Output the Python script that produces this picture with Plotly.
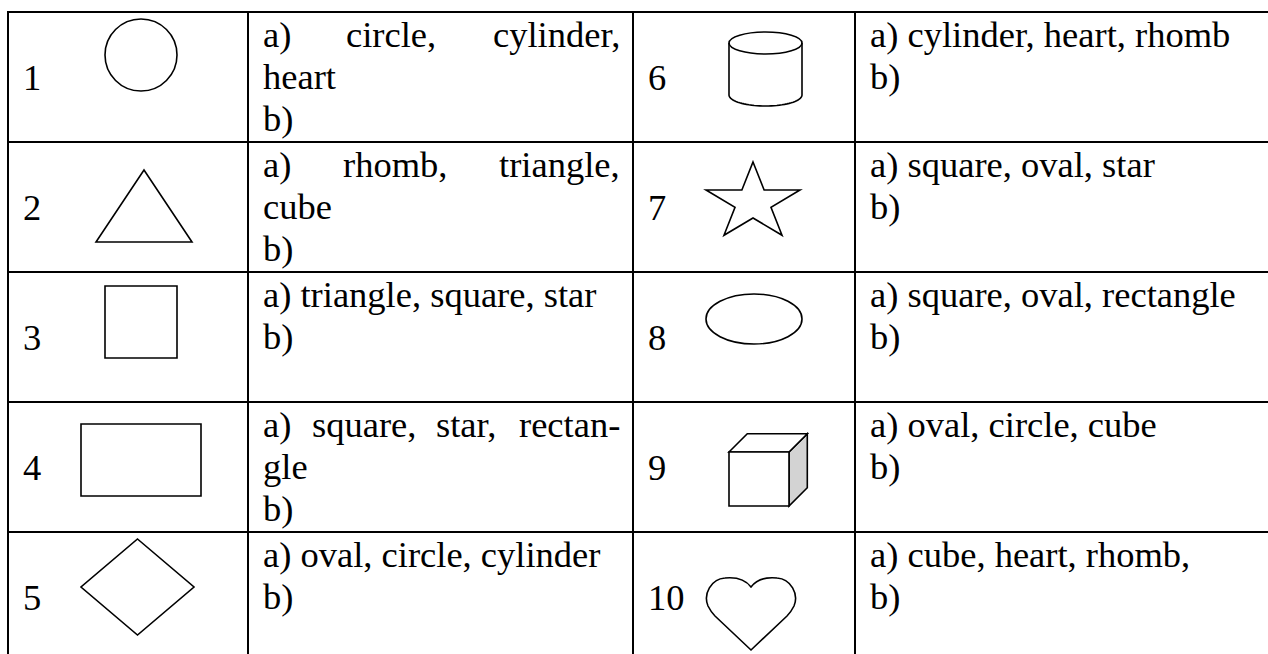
import math
import plotly.graph_objects as go

# ---------------- data ----------------
numbers = ["1", "2", "3", "4", "5", "6", "7", "8", "9", "10"]
figures = ["circle", "triangle", "square", "rectangle", "rhomb",
           "cylinder", "star", "oval", "cube", "heart"]
answer_a = [
    ["a) circle, cylinder,", "heart"],
    ["a) rhomb, triangle,", "cube"],
    ["a) triangle, square, star"],
    ["a) square, star, rectan-", "gle"],
    ["a) oval, circle, cylinder"],
    ["a) cylinder, heart, rhomb"],
    ["a) square, oval, star"],
    ["a) square, oval, rectangle"],
    ["a) oval, circle, cube"],
    ["a) cube, heart, rhomb,"],
]
answer_b = ["b)"] * 10

# ---------------- layout ----------------
W, H = 1268, 654
COL_X = [8, 248, 633, 855, 1300]
ROW_Y = [12, 142, 272, 402, 532, 680]
FONT = "Liberation Serif, Times New Roman, serif"
FS = 36.5
GRID_W = 2
FIG_W = 1.6
PAD_L, PAD_R = 15, 13
BASE1, LINE_GAP = 35, 42

# Times / Liberation Serif advance widths (per em)
CW = {' ': .25, 'a': .444, 'b': .5, 'c': .444, 'd': .5, 'e': .444, 'g': .5,
      'h': .5, 'i': .278, 'l': .278, 'm': .778, 'n': .5, 'o': .5, 'q': .5,
      'r': .333, 's': .389, 't': .278, 'u': .5, 'v': .5, 'y': .5, ',': .25,
      ')': .333, '-': .333}


def tw(s):
    return sum(CW.get(ch, .5) for ch in s) * FS


shapes = []
annotations = []


def line(x0, y0, x1, y1, w=GRID_W):
    shapes.append(dict(type="line", x0=x0, y0=y0, x1=x1, y1=y1,
                       line=dict(color="black", width=w), layer="above"))


def path(d, fill="rgba(0,0,0,0)"):
    shapes.append(dict(type="path", path=d, fillcolor=fill,
                       line=dict(color="black", width=FIG_W), layer="above"))


def ellipse(cx, cy, rx, ry):
    shapes.append(dict(type="circle", x0=cx - rx, x1=cx + rx, y0=cy - ry, y1=cy + ry,
                       line=dict(color="black", width=FIG_W), fillcolor="rgba(0,0,0,0)"))


def text(s, x, baseline, anchor="left"):
    annotations.append(dict(text=s, x=x, y=baseline - 0.3375 * FS, xref="x", yref="y",
                            xanchor=anchor, yanchor="middle", showarrow=False,
                            borderpad=0, borderwidth=0,
                            font=dict(family=FONT, size=FS, color="black")))


def pts(p):
    return "M " + " L ".join(f"{x:.2f},{y:.2f}" for x, y in p) + " Z"


def draw_figure(name, cx0, ry0):
    # cx0 = left of number cell, ry0 = top of row
    if name == "circle":
        ellipse(cx0 + 133, ry0 + 43, 36, 36)
    elif name == "triangle":
        c, t, b, hw = cx0 + 136, ry0 + 28, ry0 + 100, 48
        path(pts([(c, t), (c + hw, b), (c - hw, b)]))
    elif name == "square":
        shapes.append(dict(type="rect", x0=cx0 + 97, x1=cx0 + 169, y0=ry0 + 14, y1=ry0 + 86,
                           line=dict(color="black", width=FIG_W)))
    elif name == "rectangle":
        shapes.append(dict(type="rect", x0=cx0 + 73, x1=cx0 + 193, y0=ry0 + 22, y1=ry0 + 94,
                           line=dict(color="black", width=FIG_W)))
    elif name == "rhomb":
        c, m = cx0 + 129.5, ry0 + 55
        path(pts([(c, m - 48), (c + 56.5, m), (c, m + 48), (c - 56.5, m)]))
    elif name == "cylinder":
        c, top, bot, rx, ry = cx0 + 132.5, ry0 + 31, ry0 + 83, 36.5, 11
        ellipse(c, top, rx, ry)
        arc = [(c - rx, top)] + [(c - rx * math.cos(t * math.pi / 40), bot + ry * math.sin(t * math.pi / 40))
                                 for t in range(41)] + [(c + rx, top)]
        shapes.append(dict(type="path", path="M " + " L ".join(f"{x:.2f},{y:.2f}" for x, y in arc),
                           line=dict(color="black", width=FIG_W)))
    elif name == "star":
        c, m, R, r, sx = cx0 + 120, ry0 + 60.5, 40.5, 15.5, 1.22
        p = []
        for k in range(10):
            ang = -math.pi / 2 + k * math.pi / 5
            rr = R if k % 2 == 0 else r
            p.append((c + sx * rr * math.cos(ang), m + rr * math.sin(ang)))
        path(pts(p))
    elif name == "oval":
        ellipse(cx0 + 121, ry0 + 47, 48, 25)
    elif name == "cube":
        x0, x1, y0, y1, d = cx0 + 96, cx0 + 156, ry0 + 50, ry0 + 104, 18.3
        path(pts([(x1, y0), (x1 + d, y0 - d), (x1 + d, y1 - d), (x1, y1)]), fill="#d3d3d3")
        path(pts([(x0, y0), (x0 + d, y0 - d), (x1 + d, y0 - d), (x1, y0)]), fill="white")
        path(pts([(x0, y0), (x1, y0), (x1, y1), (x0, y1)]), fill="white")
    elif name == "heart":
        hx, ht = cx0 + 118, ry0 + 46
        d = (f"M {hx},{ht+9} C {hx-6},{ht+1} {hx-16},{ht-1} {hx-26},{ht} "
             f"C {hx-40},{ht+1} {hx-48},{ht+16} {hx-43},{ht+28} "
             f"C {hx-41},{ht+32} {hx-39},{ht+35} {hx-36},{ht+38} "
             f"L {hx},{ht+72} L {hx+36},{ht+38} "
             f"C {hx+39},{ht+35} {hx+41},{ht+32} {hx+43},{ht+28} "
             f"C {hx+48},{ht+16} {hx+40},{ht+1} {hx+26},{ht} "
             f"C {hx+16},{ht-1} {hx+6},{ht+1} {hx},{ht+9} Z")
        path(d)


# grid
for y in ROW_Y:
    line(COL_X[0] - 1, y, W + 20, y)
for x in COL_X[:4]:
    line(x, ROW_Y[0] - 1, x, H + 20)

for i, (num, fig_name, a_lines, b_line) in enumerate(zip(numbers, figures, answer_a, answer_b)):
    block, row = divmod(i, 5)
    nx0 = COL_X[2 * block]
    tx0 = COL_X[2 * block + 1]
    tx1 = COL_X[2 * block + 2]
    ry0 = ROW_Y[row]
    # number, vertically centred
    annotations.append(dict(text=num, x=nx0 + 15, y=ry0 + 65, xref="x", yref="y",
                            xanchor="left", yanchor="middle", showarrow=False,
                            borderpad=0, borderwidth=0,
                            font=dict(family=FONT, size=FS, color="black")))
    draw_figure(fig_name, nx0, ry0)
    L, R = tx0 + PAD_L, tx1 - PAD_R
    lines = a_lines + [b_line]
    for k, s in enumerate(lines):
        base = ry0 + BASE1 + k * LINE_GAP
        justify = k < len(a_lines) - 1
        if justify:
            words = s.split(" ")
            ws = [tw(w) for w in words]
            gap = (R - L - sum(ws)) / (len(words) - 1)
            x = L
            for j, (w, wd) in enumerate(zip(words, ws)):
                if j == len(words) - 1:
                    text(w, R, base, "right")
                else:
                    text(w, x, base, "left")
                x += wd + gap
        else:
            text(s, L, base, "left")

fig = go.Figure()
fig.add_trace(go.Scatter(x=[0, W], y=[0, H], mode="markers", marker=dict(opacity=0),
                         hoverinfo="skip", showlegend=False))
fig.update_layout(
    width=W, height=H, margin=dict(l=0, r=0, t=0, b=0),
    paper_bgcolor="white", plot_bgcolor="white",
    xaxis=dict(range=[0, W], visible=False, fixedrange=True),
    yaxis=dict(range=[H, 0], visible=False, fixedrange=True),
    shapes=shapes, annotations=annotations, showlegend=False,
)
fig.write_html("out.html", config={"displayModeBar": False, "staticPlot": True},
               post_script="document.body.style.margin='0';document.body.style.overflow='hidden';")
